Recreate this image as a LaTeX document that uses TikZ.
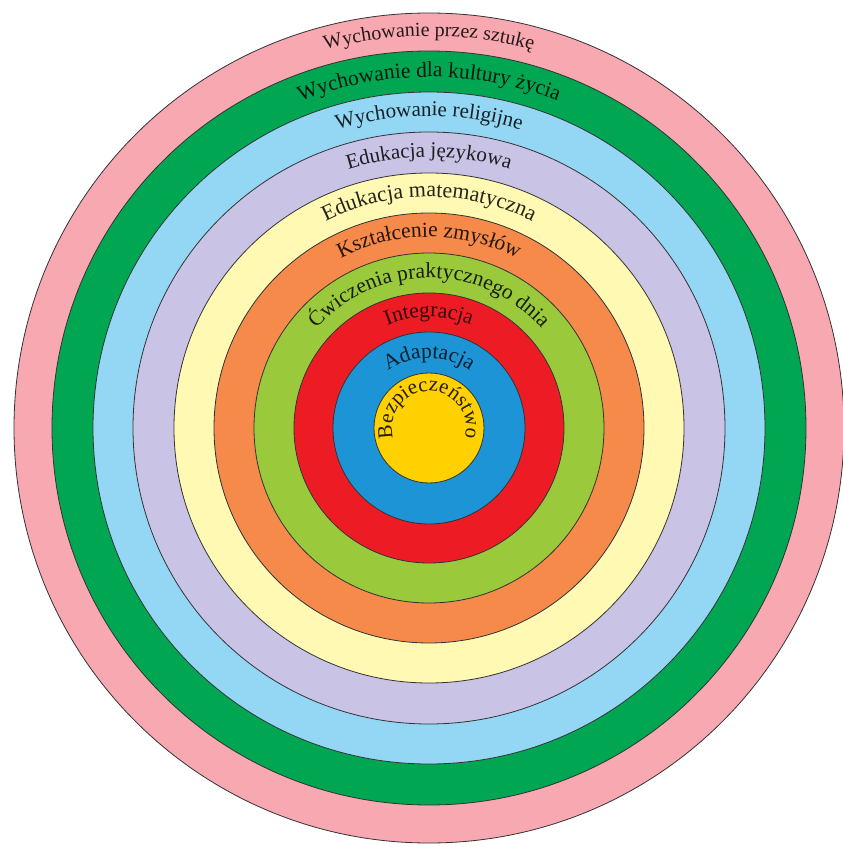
\documentclass[tikz,border=0pt]{standalone}
\usepackage{fontspec}
\setmainfont{Liberation Serif}
\usetikzlibrary{decorations.text}
\definecolor{cPink}{HTML}{F8A8B0}
\definecolor{cGreen}{HTML}{00A651}
\definecolor{cSky}{HTML}{93D7F5}
\definecolor{cLav}{HTML}{C9C3E6}
\definecolor{cCream}{HTML}{FFF9B3}
\definecolor{cOrange}{HTML}{F58A4B}
\definecolor{cLime}{HTML}{9ACA3C}
\definecolor{cRed}{HTML}{ED1C24}
\definecolor{cBlue}{HTML}{1C94D6}
\definecolor{cGold}{HTML}{FFD100}
\tikzset{ring/.style={draw=black!80, line width=0.8pt}}
\newcommand\ringlabel[4]{%
  \path[decorate, decoration={text along path, text align=center,
    text={|\fontsize{#4}{#4}\selectfont\color{#2}|#3}}]
    (180:#1) arc[start angle=180, end angle=0, radius=#1];}
\begin{document}
\begin{tikzpicture}[x=1pt,y=1pt]
\useasboundingbox (-429,-419) rectangle (414,428);
\fill[white] (-429,-419) rectangle (414,428);
\coordinate (O) at (0,0);
\foreach \r/\c in {415/cPink,377/cGreen,336/cSky,296/cLav,255/cCream,215/cOrange,175/cLime,135/cRed,96/cBlue,55/cGold}
  \filldraw[ring, fill=\c] (O) circle[radius=\r];
\ringlabel{392}{cPink!15!black}{Wychowanie przez sztukę}{20}
\ringlabel{351}{cGreen!15!black}{Wychowanie dla kultury życia}{21.5}
\ringlabel{312}{cSky!15!black}{Wychowanie religijne}{21}
\ringlabel{271}{cLav!15!black}{Edukacja językowa}{21}
\ringlabel{231}{cCream!15!black}{Edukacja matematyczna}{22}
\ringlabel{191}{cOrange!15!black}{Kształcenie zmysłów}{21.5}
\ringlabel{150}{cLime!15!black}{Ćwiczenia praktycznego dnia}{21.5}
\ringlabel{111}{cRed!20!black}{Integracja}{21.5}
\ringlabel{70}{cBlue!20!black}{Adaptacja}{21.5}
\path[decorate, decoration={text along path, text align=center,
    text={|\fontsize{21}{21}\selectfont\color{cGold!15!black}|Bezpieczeństwo}}]
    (205:37) arc[start angle=205, end angle=-25, radius=37];
\end{tikzpicture}
\end{document}
